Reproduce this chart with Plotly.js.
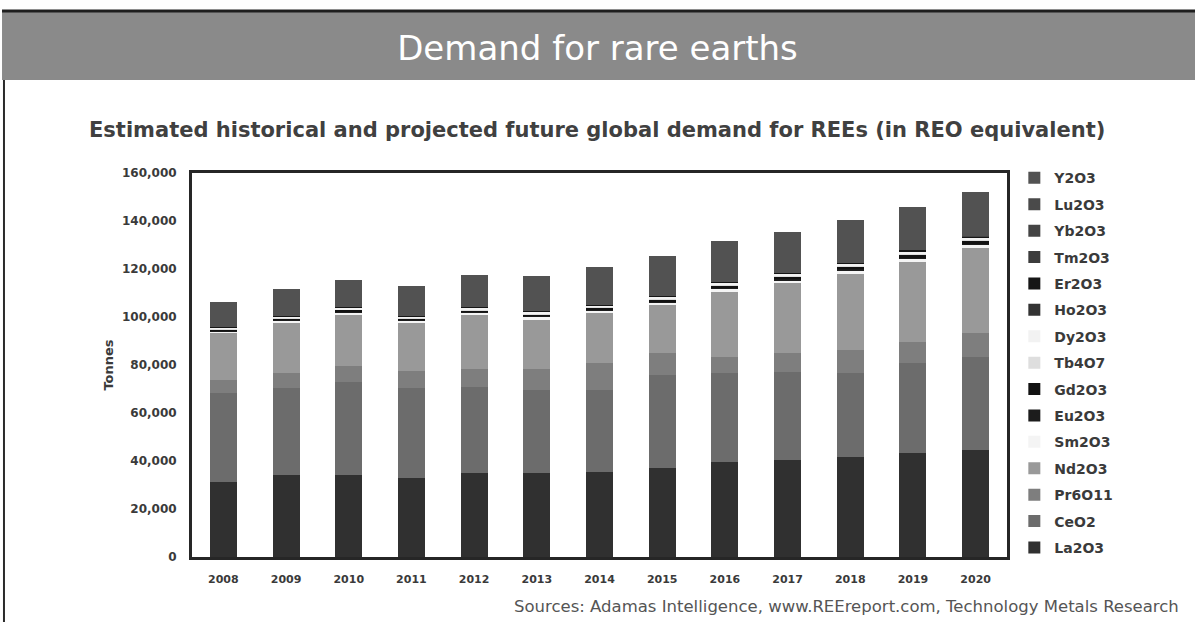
<!DOCTYPE html>
<html>
<head>
<meta charset="utf-8">
<script src="https://cdn.plot.ly/plotly-3.0.1.min.js"></script>
<style>
html,body{margin:0;padding:0;background:#fff;}
#chart{width:1195px;height:622px;}
</style>
</head>
<body>
<div id="chart"></div>
<script>
// ---- Data (tonnes, REO equivalent) ----
const years = ['2008','2009','2010','2011','2012','2013','2014','2015','2016','2017','2018','2019','2020'];

const La2O3  = [31400, 34200, 34200, 32800, 35100, 35100, 35600, 36900, 39700, 40400, 41800, 43200, 44600];
const CeO2   = [36800, 36100, 38900, 37600, 35800, 34400, 34000, 39000, 36800, 36800, 34700, 37500, 38900];
const Pr6O11 = [5600, 6300, 6300, 6900, 7600, 9000, 11100, 9000, 6900, 7600, 9700, 9000, 9700];
const Nd2O3  = [19400, 20800, 21500, 20100, 22200, 20400, 20800, 20100, 27100, 29200, 31900, 33300, 35400];
const Sm2O3  = [700, 800, 850, 820, 900, 920, 960, 1000, 1080, 1130, 1180, 1230, 1280];
const Eu2O3  = [300, 350, 380, 360, 400, 410, 430, 450, 480, 500, 520, 540, 560];
const Gd2O3  = [500, 600, 650, 630, 700, 720, 770, 820, 890, 940, 990, 1040, 1090];
const Tb4O7  = [250, 280, 300, 290, 310, 320, 340, 360, 390, 410, 430, 450, 470];
const Dy2O3  = [500, 580, 620, 600, 650, 680, 730, 780, 840, 880, 920, 960, 1000];
const Ho2O3  = [30, 30, 30, 30, 30, 30, 30, 30, 30, 30, 30, 30, 30];
const Er2O3  = [250, 290, 300, 300, 330, 340, 360, 380, 410, 430, 450, 470, 490];
const Tm2O3  = [10, 10, 10, 10, 10, 10, 10, 10, 10, 10, 10, 10, 10];
const Yb2O3  = [50, 50, 50, 50, 60, 60, 60, 60, 60, 60, 60, 60, 60];
const Lu2O3  = [10, 10, 10, 10, 10, 10, 10, 10, 10, 10, 10, 10, 10];
const Y2O3   = [10600, 11200, 11400, 12400, 13300, 14800, 15500, 16600, 17000, 17200, 17900, 17900, 18400];

const yTickVals = [0, 20000, 40000, 60000, 80000, 100000, 120000, 140000, 160000];

// ---- Series (bottom to top) ----
const series = [
  {name:'La2O3',  y:La2O3,  color:'#303030'},
  {name:'CeO2',   y:CeO2,   color:'#6c6c6c'},
  {name:'Pr6O11', y:Pr6O11, color:'#7e7e7e'},
  {name:'Nd2O3',  y:Nd2O3,  color:'#999999'},
  {name:'Sm2O3',  y:Sm2O3,  color:'#f4f4f4'},
  {name:'Eu2O3',  y:Eu2O3,  color:'#1c1c1c'},
  {name:'Gd2O3',  y:Gd2O3,  color:'#121212'},
  {name:'Tb4O7',  y:Tb4O7,  color:'#dedede'},
  {name:'Dy2O3',  y:Dy2O3,  color:'#f2f2f2'},
  {name:'Ho2O3',  y:Ho2O3,  color:'#333333'},
  {name:'Er2O3',  y:Er2O3,  color:'#161616'},
  {name:'Tm2O3',  y:Tm2O3,  color:'#3c3c3c'},
  {name:'Yb2O3',  y:Yb2O3,  color:'#444444'},
  {name:'Lu2O3',  y:Lu2O3,  color:'#4a4a4a'},
  {name:'Y2O3',   y:Y2O3,   color:'#525252'}
];

const FONT = 'DejaVu Sans, Liberation Sans, Arial, sans-serif';
const TXT = '#3a3a3a';

const traces = series.map((s, i) => ({
  type: 'bar',
  x: years,
  y: s.y,
  name: s.name,
  legendgroup: 'g' + i,
  legendrank: 1000 - i * 10,
  marker: {color: s.color, line: {width: 0}},
  hoverinfo: 'x+y+name'
}));

const layout = {
  width: 1195,
  height: 622,
  paper_bgcolor: '#ffffff',
  plot_bgcolor: '#ffffff',
  barmode: 'stack',
  bargap: 0.57,
  margin: {l: 192, r: 188, t: 173, b: 65},
  showlegend: true,
  title: {
    text: 'Demand for rare earths',
    x: 0.5, xanchor: 'center',
    y: 0.923, yanchor: 'middle',
    font: {family: FONT, size: 34, color: '#ffffff'}
  },
  xaxis: {
    type: 'category',
    range: [-0.5, 12.5],
    showline: true, mirror: true, linecolor: '#262626', linewidth: 3,
    showgrid: false, zeroline: false,
    ticks: '', ticklabelstandoff: 10,
    tickfont: {family: FONT, size: 11, color: TXT, weight: 'bold'}
  },
  yaxis: {
    range: [0, 160000],
    tickvals: yTickVals,
    tickformat: ',',
    showline: true, mirror: true, linecolor: '#262626', linewidth: 3,
    showgrid: false, zeroline: false,
    ticks: '', ticklabelstandoff: 10,
    tickfont: {family: FONT, size: 12, color: TXT, weight: 'bold'},
    title: {text: 'Tonnes', standoff: 6, font: {family: FONT, size: 13, color: TXT, weight: 'bold'}}
  },
  legend: {
    x: 1.009, xanchor: 'left',
    y: 1.028, yanchor: 'top',
    traceorder: 'grouped',
    tracegroupgap: 5.2,
    itemwidth: 30,
    maxheight: 1000,
    bgcolor: 'rgba(0,0,0,0)',
    font: {family: FONT, size: 14, color: TXT, weight: 'bold'}
  },
  shapes: [
    {type: 'rect', xref: 'paper', yref: 'paper', x0: -0.2331, x1: 1.2307, y0: 1.2422, y1: 1.4219,
     fillcolor: '#8a8a8a', line: {width: 0}, layer: 'below'},
    {type: 'line', xref: 'paper', yref: 'paper', x0: -0.2331, x1: 1.2307, y0: 1.4219, y1: 1.4219,
     line: {color: '#1e1e1e', width: 3}},
    {type: 'line', xref: 'paper', yref: 'paper', x0: -0.2307, x1: -0.2307, y0: 1.2422, y1: -0.1693,
     line: {color: '#2a2a2a', width: 2}}
  ],
  annotations: [
    {text: 'Estimated historical and projected future global demand for REEs (in REO equivalent)',
     xref: 'paper', yref: 'paper', x: 0.4969, y: 1.112, xanchor: 'center', yanchor: 'middle',
     showarrow: false, font: {family: FONT, size: 21, color: '#404040', weight: 'bold'}},
    {text: 'Sources: Adamas Intelligence, www.REEreport.com, Technology Metals Research',
     xref: 'paper', yref: 'paper', x: 0.393, y: -0.130, xanchor: 'left', yanchor: 'middle',
     showarrow: false, font: {family: FONT, size: 16.5, color: '#555555'}}
  ]
};

Plotly.newPlot('chart', traces, layout, {displayModeBar: false, staticPlot: true});
</script>
</body>
</html>
